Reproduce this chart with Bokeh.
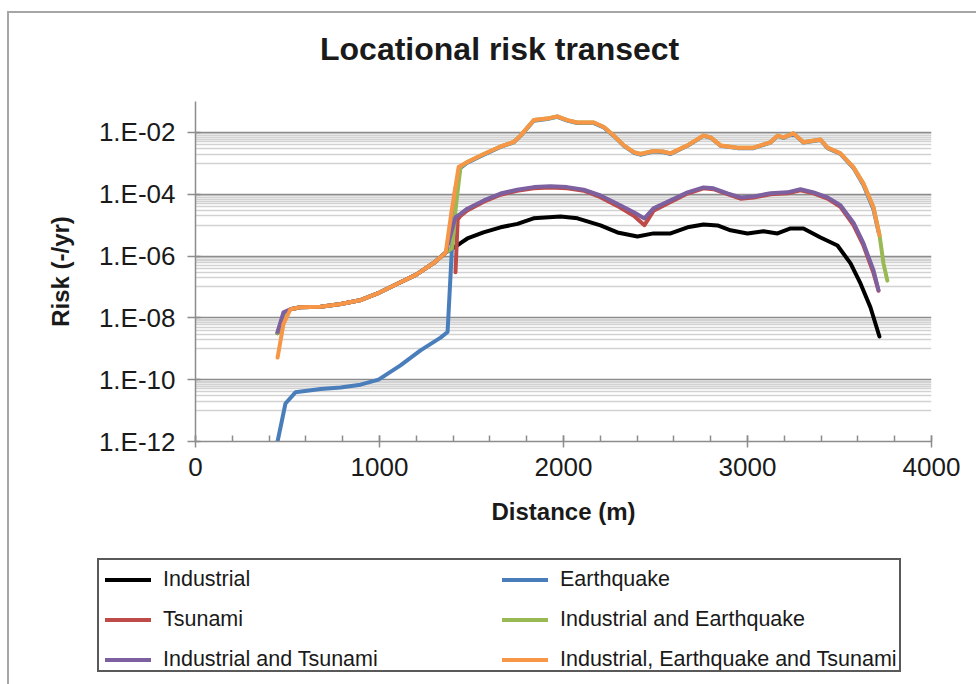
from bokeh.plotting import figure
from bokeh.layouts import column
from bokeh.models import FixedTicker, CustomJSTickFormatter, Div
from bokeh.embed import file_html
from bokeh.resources import INLINE

FONT = "Liberation Sans"

# ---- data: distance along the transect (m) and locational risk (-/yr) ----
industrial_x = [446, 478, 516, 570, 680, 790, 900, 1000, 1100, 1200,
                1300, 1360, 1440, 1478, 1565, 1658, 1750, 1837, 1984, 2076,
                2201, 2293, 2402, 2489, 2582, 2674, 2761, 2837, 2908, 3000,
                3087, 3163, 3234, 3304, 3397, 3489, 3560, 3614, 3668, 3717]
industrial_risk = [3.2e-9, 1.2e-8, 1.9e-8, 2.2e-8, 2.3e-8, 2.8e-8, 3.8e-8, 6.6e-8, 1.3e-7, 2.5e-7,
                   6.3e-7, 1.3e-6, 2.6e-6, 3.7e-6, 5.8e-6, 8.5e-6, 1.1e-5, 1.66e-5, 1.9e-5, 1.66e-5,
                   9.8e-6, 5.8e-6, 4.3e-6, 5.4e-6, 5.4e-6, 8.5e-6, 1.05e-5, 9.8e-6, 6.8e-6, 5.4e-6,
                   6.3e-6, 5.4e-6, 7.8e-6, 7.8e-6, 4.0e-6, 2.2e-6, 5.8e-7, 1.3e-7, 2.2e-8, 2.5e-9]

earthquake_x = [446, 489, 543, 680, 788, 897, 995, 1114, 1223, 1332,
                1370, 1410, 1440, 1477, 1567, 1658, 1730, 1766, 1839, 1911,
                1966, 2020, 2074, 2165, 2219, 2273, 2328, 2382, 2418, 2489,
                2540, 2582, 2674, 2761, 2800, 2853, 2946, 3033, 3125, 3163,
                3196, 3250, 3304, 3397, 3435, 3505, 3576, 3630, 3685, 3712]
earthquake_risk = [1.0e-12, 1.7e-11, 3.9e-11, 5.0e-11, 5.6e-11, 6.9e-11, 1.0e-10, 2.9e-10, 8.9e-10, 2.3e-9,
                   3.5e-9, 1.3e-4, 7.1e-4, 1.05e-3, 1.9e-3, 3.4e-3, 4.8e-3, 7.7e-3, 2.4e-2, 2.7e-2,
                   3.2e-2, 2.4e-2, 2.0e-2, 2.0e-2, 1.45e-2, 7.7e-3, 3.7e-3, 2.2e-3, 1.9e-3, 2.4e-3,
                   2.3e-3, 2.0e-3, 3.7e-3, 7.7e-3, 6.7e-3, 3.7e-3, 3.1e-3, 3.1e-3, 4.7e-3, 7.7e-3,
                   6.7e-3, 9.1e-3, 4.7e-3, 5.7e-3, 3.1e-3, 2.0e-3, 7.0e-4, 2.0e-4, 3.2e-5, 6.0e-6]

tsunami_x = [1413, 1425, 1440, 1477, 1567, 1658, 1748, 1839, 1929, 2020,
             2110, 2201, 2292, 2382, 2440, 2489, 2582, 2674, 2761, 2815,
             2891, 2962, 3033, 3125, 3217, 3288, 3359, 3435, 3505, 3576,
             3630, 3685, 3712]
tsunami_risk = [3.0e-7, 1.5e-5, 2.0e-5, 3.0e-5, 5.7e-5, 9.6e-5, 1.3e-4, 1.55e-4, 1.65e-4, 1.55e-4,
                1.3e-4, 8.0e-5, 4.2e-5, 2.0e-5, 1.0e-5, 2.9e-5, 5.6e-5, 1.05e-4, 1.55e-4, 1.45e-4,
                1.0e-4, 7.2e-5, 7.8e-5, 1.0e-4, 1.07e-4, 1.35e-4, 1.07e-4, 7.2e-5, 3.9e-5, 1.0e-5,
                2.2e-6, 2.8e-7, 7.5e-8]

ind_eq_x = [446, 478, 516, 570, 680, 790, 900, 1000, 1100, 1200,
            1300, 1360, 1395, 1415, 1440, 1477, 1567, 1658, 1730, 1766,
            1839, 1911, 1966, 2020, 2074, 2165, 2219, 2273, 2328, 2382,
            2418, 2489, 2540, 2582, 2674, 2761, 2800, 2853, 2946, 3033,
            3125, 3163, 3196, 3250, 3304, 3397, 3435, 3505, 3576, 3630,
            3685, 3717, 3739, 3760]
ind_eq_risk = [3.2e-9, 1.2e-8, 1.9e-8, 2.2e-8, 2.3e-8, 2.8e-8, 3.8e-8, 6.6e-8, 1.3e-7, 2.5e-7,
               6.3e-7, 1.3e-6, 1.8e-6, 4.0e-5, 7.6e-4, 1.1e-3, 2.0e-3, 3.5e-3, 4.9e-3, 7.9e-3,
               2.5e-2, 2.8e-2, 3.3e-2, 2.5e-2, 2.1e-2, 2.1e-2, 1.5e-2, 7.9e-3, 3.8e-3, 2.3e-3,
               2.0e-3, 2.5e-3, 2.4e-3, 2.1e-3, 3.8e-3, 7.9e-3, 6.9e-3, 3.8e-3, 3.2e-3, 3.2e-3,
               4.8e-3, 7.9e-3, 6.9e-3, 9.3e-3, 4.8e-3, 5.9e-3, 3.2e-3, 2.1e-3, 7.4e-4, 2.2e-4,
               3.7e-5, 5.0e-6, 5.8e-7, 1.6e-7]

ind_ts_x = [446, 478, 516, 570, 680, 790, 900, 1000, 1100, 1200,
            1300, 1360, 1413, 1440, 1477, 1567, 1658, 1748, 1839, 1929,
            2020, 2110, 2201, 2292, 2382, 2440, 2489, 2582, 2674, 2761,
            2815, 2891, 2962, 3033, 3125, 3217, 3288, 3359, 3435, 3505,
            3576, 3630, 3685, 3712]
ind_ts_risk = [3.5e-9, 1.5e-8, 1.9e-8, 2.2e-8, 2.3e-8, 2.8e-8, 3.8e-8, 6.6e-8, 1.3e-7, 2.5e-7,
               6.3e-7, 1.3e-6, 1.8e-5, 2.3e-5, 3.4e-5, 6.3e-5, 1.05e-4, 1.4e-4, 1.7e-4, 1.8e-4,
               1.7e-4, 1.4e-4, 9.1e-5, 4.9e-5, 2.6e-5, 1.65e-5, 3.5e-5, 6.3e-5, 1.15e-4, 1.66e-4,
               1.55e-4, 1.07e-4, 7.9e-5, 8.5e-5, 1.07e-4, 1.15e-4, 1.45e-4, 1.15e-4, 7.9e-5, 4.4e-5,
               1.2e-5, 2.6e-6, 3.4e-7, 7.9e-8]

all_x = [446, 478, 516, 570, 680, 790, 900, 1000, 1100, 1200,
         1300, 1360, 1390, 1430, 1477, 1567, 1658, 1730, 1766, 1839,
         1911, 1966, 2020, 2074, 2165, 2219, 2273, 2328, 2382, 2418,
         2489, 2540, 2582, 2674, 2761, 2800, 2853, 2946, 3033, 3125,
         3163, 3196, 3250, 3304, 3397, 3435, 3505, 3576, 3630, 3685,
         3717]
all_risk = [5.2e-10, 6.3e-9, 1.9e-8, 2.2e-8, 2.3e-8, 2.8e-8, 3.8e-8, 6.6e-8, 1.3e-7, 2.5e-7,
            6.3e-7, 1.3e-6, 2.4e-5, 7.6e-4, 1.1e-3, 2.0e-3, 3.5e-3, 4.9e-3, 7.9e-3, 2.5e-2,
            2.8e-2, 3.3e-2, 2.5e-2, 2.1e-2, 2.1e-2, 1.5e-2, 7.9e-3, 3.8e-3, 2.3e-3, 2.0e-3,
            2.5e-3, 2.4e-3, 2.1e-3, 3.8e-3, 7.9e-3, 6.9e-3, 3.8e-3, 3.2e-3, 3.2e-3, 4.8e-3,
            7.9e-3, 6.9e-3, 9.3e-3, 4.8e-3, 5.9e-3, 3.2e-3, 2.1e-3, 7.4e-4, 2.2e-4, 3.7e-5,
            4.7e-6]

series_names = ["Industrial", "Earthquake", "Tsunami", "Industrial and Earthquake",
                "Industrial and Tsunami", "Industrial, Earthquake and Tsunami"]
series_colors = ["#000000", "#4A7EBB", "#BE4B48", "#98B954", "#7D60A0", "#F79646"]

chart_title = "Locational risk transect"
x_ticks = [0, 1000, 2000, 3000, 4000]
y_ticks = [1e-12, 1e-10, 1e-8, 1e-6, 1e-4, 1e-2]

LINE_W = 4

# ---- title strip ----
head = Div(text=(f"<div style=\"padding:20px 0 0 311px;font-family:'{FONT}',sans-serif;"
                 "font-size:32px;font-weight:bold;line-height:32px;color:#1a1a1a;"
                 f"white-space:nowrap;\">{chart_title}</div>"),
           width=967, height=60, margin=0)

# ---- chart ----
p = figure(width=967, height=477, y_axis_type="log",
           x_range=(0, 4000), y_range=(1e-12, 1e-1),
           output_backend="svg", toolbar_location=None, title=None,
           min_border_left=186, min_border_right=45,
           min_border_top=28, min_border_bottom=109)
p.background_fill_color = "white"
p.border_fill_color = "white"
p.outline_line_color = None

# grid: dark line at every labelled decade, light lines in steps of a tenth of it
minor_lines = [k * t / 10 for t in y_ticks + [1.0] for k in range(1, 10)]
p.yaxis.ticker = FixedTicker(ticks=y_ticks, minor_ticks=minor_lines)
p.yaxis.formatter = CustomJSTickFormatter(code="""
    const e = Math.round(Math.log10(tick));
    return "1.E" + (e < 0 ? "-" : "+") + String(Math.abs(e)).padStart(2, "0");
""")
p.xaxis.ticker = FixedTicker(ticks=x_ticks, minor_ticks=list(range(0, 4001, 200)))

p.xgrid.grid_line_color = None
p.ygrid.grid_line_color = "#8c8c8c"
p.ygrid.grid_line_width = 1.5
p.ygrid.minor_grid_line_color = "#d2d2d2"
p.ygrid.minor_grid_line_width = 1.5

axis_grey = "#8c8c8c"
for ax in (p.xaxis, p.yaxis):
    ax.axis_line_color = axis_grey
    ax.axis_line_width = 1.5
    ax.major_tick_line_color = axis_grey
    ax.major_tick_line_width = 1.5
    ax.minor_tick_line_color = axis_grey
    ax.minor_tick_line_width = 1.5
    ax.major_label_text_font = FONT
    ax.major_label_text_font_size = "26px"
    ax.major_label_text_color = "#1a1a1a"
    ax.axis_label_text_font = FONT
    ax.axis_label_text_font_size = "24px"
    ax.axis_label_text_font_style = "bold"
    ax.axis_label_text_color = "#1a1a1a"

p.xaxis.major_tick_in = 6
p.xaxis.major_tick_out = 6
p.xaxis.minor_tick_in = 6
p.xaxis.minor_tick_out = 0
p.xaxis.major_label_standoff = 10
p.xaxis.axis_label = "Distance (m)"
p.xaxis.axis_label_standoff = 19

p.yaxis.major_tick_in = 5
p.yaxis.major_tick_out = 8
p.yaxis.minor_tick_line_color = None
p.yaxis.major_label_standoff = 12
p.yaxis.axis_label = "Risk (-/yr)"
p.yaxis.axis_label_standoff = 22

xs = [industrial_x, earthquake_x, tsunami_x, ind_eq_x, ind_ts_x, all_x]
ys = [industrial_risk, earthquake_risk, tsunami_risk, ind_eq_risk, ind_ts_risk, all_risk]
for x, y, c in zip(xs, ys, series_colors):
    p.line(x, y, line_color=c, line_width=LINE_W, line_join="round", line_cap="round")

# ---- key below the chart: two columns, three rows ----
entries = "".join(
    '<div style="display:flex;align-items:center;white-space:nowrap;overflow:hidden;">'
    f'<span style="display:inline-block;flex:none;width:46px;height:{LINE_W}px;'
    f'background:{c};margin-right:12px;"></span><span>{n}</span></div>'
    for n, c in zip(series_names, series_colors))
key_html = (
    '<div style="box-sizing:border-box;margin:8px 0 0 88px;width:804px;height:114px;'
    'border:2px solid #595959;background:#ffffff;padding:0 0 0 6px;overflow:hidden;'
    'display:grid;grid-template-columns:397px 397px;grid-template-rows:40px 40px 40px;'
    f"font-family:'{FONT}',sans-serif;font-size:21.5px;line-height:1;color:#1a1a1a;\">"
    + entries + '</div>')
key = Div(text=key_html, width=967, height=134, margin=0)

page = column(head, p, key, spacing=0, margin=(11, 0, 0, 7),
              styles={"border-top": "2px solid #a6a6a6", "border-left": "2px solid #a6a6a6",
                      "background": "#ffffff"})

open("out.html", "w").write(file_html(page, INLINE))
